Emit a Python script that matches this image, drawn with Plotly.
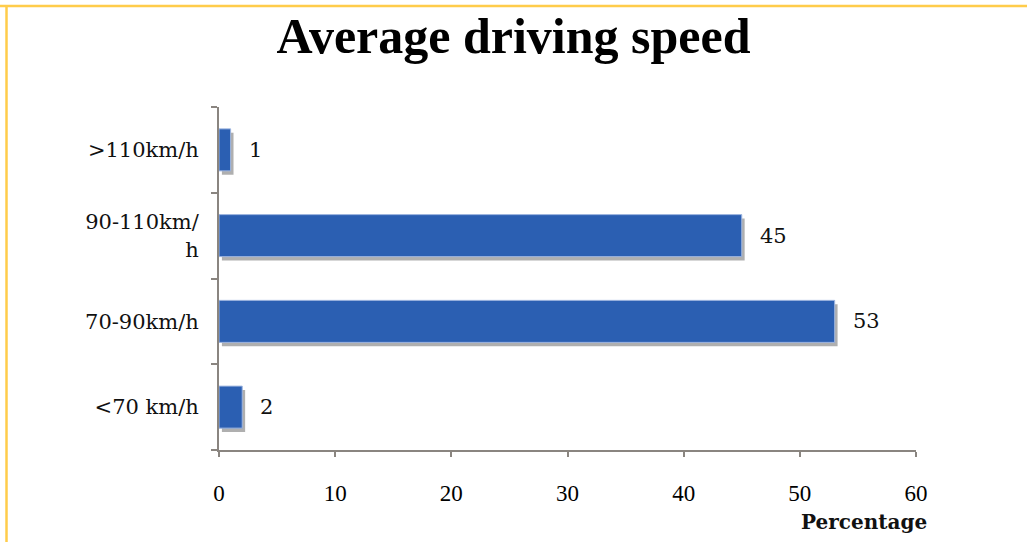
import plotly.graph_objects as go

# Survey results: share of drivers by average speed band
speed_bands = ["<70 km/h", "70-90km/h", "90-110km/<br>h", ">110km/h"]
percentages = [2, 53, 45, 1]
x_ticks = [0, 10, 20, 30, 40, 50, 60]

bar_color = "#2b5fb2"
shadow_color = "rgba(110,110,110,0.55)"
serif = "Liberation Serif"
wide_serif = "DejaVu Serif"
bar_w = 0.49

fig = go.Figure()

# soft drop shadow behind each bar
fig.add_trace(go.Bar(
    y=speed_bands, x=percentages, orientation="h",
    base=0.25, width=bar_w, offset=-bar_w / 2 - 0.045,
    marker=dict(color=shadow_color, line=dict(width=0)),
    hoverinfo="skip", showlegend=False,
))

fig.add_trace(go.Bar(
    y=speed_bands, x=percentages, orientation="h",
    width=bar_w, offset=-bar_w / 2,
    marker=dict(color=bar_color, line=dict(color="#9fb6e0", width=1)),
    showlegend=False,
))

# value labels just beyond each bar end
for band, val in zip(speed_bands, percentages):
    fig.add_annotation(
        x=val, y=band, xref="x", yref="y",
        text=str(val), showarrow=False,
        xanchor="left", yanchor="middle", xshift=16,
        font=dict(family=wide_serif, size=21, color="#111"),
    )

# axis caption at the lower right
fig.add_annotation(
    x=1, y=0, xref="paper", yref="paper",
    text="<b>Percentage</b>", showarrow=False,
    xanchor="right", yanchor="middle", xshift=13, yshift=-72,
    font=dict(family=wide_serif, size=20, color="#111"),
)

# thin golden frame along the top and left edges
frame = dict(color="#ffcc4a", width=2.5)
fig.add_shape(type="line", xref="paper", yref="paper",
              x0=-219 / 697, x1=1 + 111 / 697, y0=1 + 101 / 343, y1=1 + 101 / 343,
              line=frame)
fig.add_shape(type="line", xref="paper", yref="paper",
              x0=-212.5 / 697, x1=-212.5 / 697, y0=-92 / 343, y1=1 + 101 / 343,
              line=frame)

fig.update_layout(
    width=1027, height=542,
    margin=dict(l=219, r=111, t=107, b=92),
    paper_bgcolor="white", plot_bgcolor="white",
    barmode="overlay",
    title=dict(
        text="<b>Average driving speed</b>",
        x=0.5, xanchor="center", xref="container",
        y=1 - 18 / 542, yanchor="top", yref="container",
        font=dict(family=serif, size=50, color="#000"),
    ),
    xaxis=dict(
        range=[0, 60], tickvals=x_ticks, ticktext=[str(t) for t in x_ticks],
        showgrid=False, zeroline=False,
        showline=True, linecolor="#8a8580", linewidth=2,
        ticks="outside", ticklen=5, tickcolor="#8a8580", tickwidth=1.5,
        ticklabelstandoff=16,
        tickfont=dict(family=serif, size=23, color="#000"),
        fixedrange=True,
    ),
    yaxis=dict(
        type="category", categoryorder="array", categoryarray=speed_bands,
        range=[-0.5, 3.5],
        showgrid=False, zeroline=False,
        showline=True, linecolor="#8a8580", linewidth=2,
        ticks="outside", ticklen=6, tickcolor="#8a8580", tickwidth=1.5,
        tickson="boundaries", ticklabelstandoff=14,
        tickfont=dict(family=wide_serif, size=21, color="#111"),
        fixedrange=True,
    ),
)

fig.write_html("out.html")
